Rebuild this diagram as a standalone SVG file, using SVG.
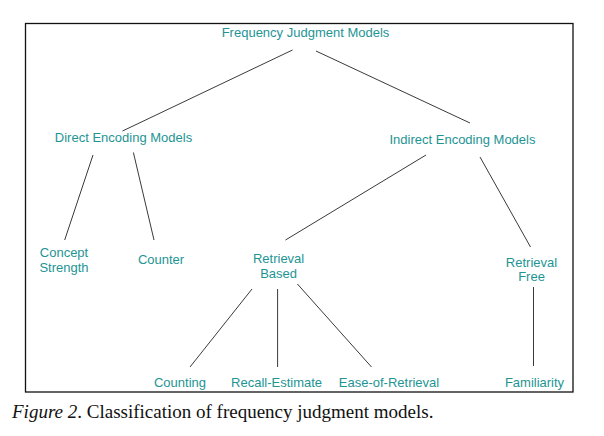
<svg xmlns="http://www.w3.org/2000/svg" width="604" height="436" viewBox="0 0 604 436">
<style>
.n{font-family:"Liberation Sans",Arial,sans-serif;font-size:13px;fill:#1e9494;text-anchor:middle}
.c line{stroke:#3a3a3a;stroke-width:1}
.cap{font-family:"Liberation Serif","Times New Roman",serif;font-size:19px;fill:#111}
</style>
<rect width="604" height="436" fill="#fff"/>
<rect x="25.5" y="23.5" width="547.5" height="368.5" fill="none" stroke="#111" stroke-width="1.3"/>
<g class="c" id="connectors">
<line x1="292.5" y1="50" x2="122.5" y2="131"/>
<line x1="316" y1="51" x2="470" y2="123"/>
<line x1="93" y1="155" x2="64.7" y2="240"/>
<line x1="133.4" y1="152.5" x2="154" y2="240"/>
<line x1="426" y1="155" x2="285.5" y2="240"/>
<line x1="480" y1="157" x2="530.5" y2="247"/>
<line x1="252" y1="289" x2="190" y2="367"/>
<line x1="277.6" y1="289" x2="277.6" y2="367"/>
<line x1="297.4" y1="284" x2="371.5" y2="367"/>
<line x1="533.5" y1="287" x2="533.5" y2="366"/>
</g>
<g id="root"><text class="n" x="305.5" y="37">Frequency Judgment Models</text></g>
<g id="direct"><text class="n" x="123.5" y="142">Direct Encoding Models</text></g>
<g id="indirect"><text class="n" x="462.5" y="144">Indirect Encoding Models</text></g>
<g id="concept"><text class="n" x="64" y="257">Concept</text><text class="n" x="64" y="272">Strength</text></g>
<g id="counter"><text class="n" x="161" y="264">Counter</text></g>
<g id="retrieval-based"><text class="n" x="278.6" y="263">Retrieval</text><text class="n" x="278.6" y="278">Based</text></g>
<g id="retrieval-free"><text class="n" x="531.5" y="267">Retrieval</text><text class="n" x="531.5" y="281">Free</text></g>
<g id="counting"><text class="n" x="180" y="387">Counting</text></g>
<g id="recall"><text class="n" x="276.6" y="387">Recall-Estimate</text></g>
<g id="ease"><text class="n" x="389" y="387">Ease-of-Retrieval</text></g>
<g id="familiarity"><text class="n" x="534.5" y="387">Familiarity</text></g>
<text class="cap" x="12" y="418"><tspan font-style="italic">Figure 2</tspan>. Classification of frequency judgment models.</text>
</svg>
